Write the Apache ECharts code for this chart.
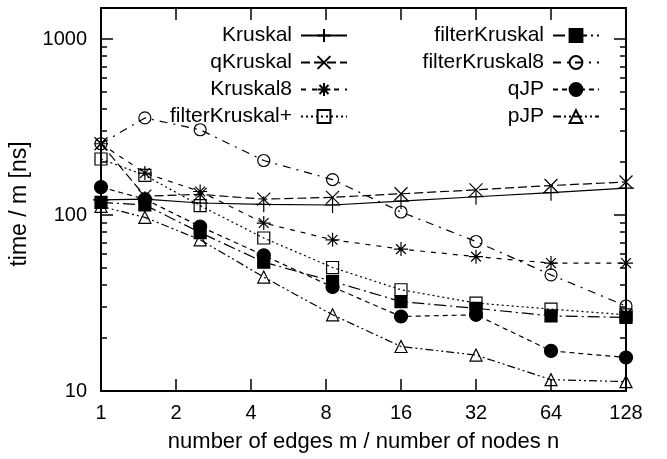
<!DOCTYPE html>
<html>
<head>
<meta charset="utf-8">
<script src="https://cdn.jsdelivr.net/npm/echarts@6/dist/echarts.min.js"></script>
<style>
html,body{margin:0;padding:0;background:#fff;}
#chart{width:667px;height:459px;}
</style>
</head>
<body>
<div id="chart"></div>
<script>
// ---- data ----
var xValues = [1, 1.5, 2.5, 4.5, 8.5, 16, 32, 64, 128];
var seriesNames = ['Kruskal', 'qKruskal', 'Kruskal8', 'filterKruskal+', 'filterKruskal', 'filterKruskal8', 'qJP', 'pJP'];
var kruskal        = [122, 123, 117, 115, 114, 120, 127, 134, 142];
var qKruskal       = [254, 128, 131, 123, 126, 132, 139, 147, 154];
var kruskal8       = [254, 173, 136, 90, 72.3, 64, 58, 53.3, 53.3];
var filterKruskalP = [208, 168, 113, 74, 50.3, 37.6, 31.6, 29.2, 27.1];
var filterKruskal  = [118, 114, 79.5, 54, 42, 32.2, 29.5, 26.7, 26.2];
var filterKruskal8 = [254, 356, 305, 204, 159, 104, 70.7, 45.7, 30.4];
var qJP            = [144, 123, 86, 59, 39, 26.5, 27.1, 16.9, 15.5];
var pJP            = [112, 97, 72.3, 44.4, 27.1, 17.9, 16.0, 11.6, 11.3];
var xTicks = [1, 2, 4, 8, 16, 32, 64, 128];
var yMajorTicks = [10, 100, 1000];
var yMinorTicks = [20, 30, 40, 50, 60, 70, 80, 90, 200, 300, 400, 500, 600, 700, 800, 900];

// ---- styles ----
var FONT = 'Liberation Sans';
var INK = '#000';
var PLUS = 'path://M0,5L10,5M5,0L5,10';
var CROSS = 'path://M0,0L10,10M10,0L0,10';
var STAR = 'path://M5,0L5,10M0,5L10,5M1.5,1.5L8.5,8.5M8.5,1.5L1.5,8.5';

var styles = [
  {sym: PLUS, size: 16, fill: 'transparent', dash: 'solid'},
  {sym: CROSS, size: 13, fill: 'transparent', dash: [9, 4]},
  {sym: STAR, size: 14, fill: 'transparent', dash: [5, 6]},
  {sym: 'rect', size: 12, fill: 'transparent', dash: [2, 3]},
  {sym: 'rect', size: 12, fill: INK, dash: [12, 4, 2, 4]},
  {sym: 'circle', size: 12, fill: 'transparent', dash: [8, 6, 2, 6]},
  {sym: 'circle', size: 13, fill: INK, dash: [5, 4]},
  {sym: 'triangle', size: 12, fill: 'transparent', dash: [8, 3, 2, 3, 2, 3]}
];
var values = [kruskal, qKruskal, kruskal8, filterKruskalP, filterKruskal, filterKruskal8, qJP, pJP];

var series = seriesNames.map(function (name, i) {
  var st = styles[i];
  return {
    name: name,
    type: 'line',
    xAxisIndex: 0,
    yAxisIndex: 0,
    data: xValues.map(function (x, j) { return [x, values[i][j]]; }),
    symbol: st.sym,
    symbolSize: st.size,
    showAllSymbol: true,
    animation: false,
    lineStyle: {color: INK, width: 1.2, type: st.dash},
    itemStyle: {color: st.fill, borderColor: INK, borderWidth: 1.2}
  };
});

function yAxisDef(pos, ticks, len, showLabel, showLine) {
  return {
    type: 'log', logBase: 10, min: 10, max: 1500, position: pos,
    gridIndex: 0,
    name: (pos === 'left' && showLabel) ? 'time / m [ns]' : '',
    nameLocation: 'middle', nameGap: 63,
    nameTextStyle: {fontFamily: FONT, fontSize: 23, color: INK, padding: [0, 9, 0, 0]},
    axisLine: {show: showLine, lineStyle: {color: INK, width: 2}},
    axisTick: {show: true, inside: true, length: len, customValues: ticks, lineStyle: {color: INK, width: 1.5}},
    axisLabel: {show: showLabel, customValues: ticks, margin: 14, fontFamily: FONT, fontSize: 20, color: INK,
      formatter: function (v) { return String(Math.round(v)); }},
    splitLine: {show: false}, minorTick: {show: false}, minorSplitLine: {show: false}
  };
}

function xAxisDef(pos, showLabel) {
  return {
    type: 'log', logBase: 2, min: 1, max: 128, position: pos,
    gridIndex: 0,
    name: showLabel ? 'number of edges m / number of nodes n' : '',
    nameLocation: 'middle', nameGap: 40,
    nameTextStyle: {fontFamily: FONT, fontSize: 22, color: INK},
    axisLine: {show: true, lineStyle: {color: INK, width: 2}},
    axisTick: {show: true, inside: true, length: 12, customValues: xTicks, lineStyle: {color: INK, width: 1.5}},
    axisLabel: {show: showLabel, customValues: xTicks, margin: 12, fontFamily: FONT, fontSize: 20, color: INK,
      formatter: function (v) { return String(Math.round(v)); }},
    splitLine: {show: false}
  };
}

function legendDef(names, right) {
  return {
    data: names,
    orient: 'vertical',
    align: 'right',
    right: right,
    top: 25,
    padding: 0,
    itemWidth: 46,
    itemHeight: 16,
    itemGap: 6,
    selectedMode: false,
    textStyle: {fontFamily: FONT, fontSize: 21, color: INK, lineHeight: 16, padding: [0, 4, 0, 0]}
  };
}

var option = {
  backgroundColor: '#fff',
  animation: false,
  textStyle: {fontFamily: FONT},
  grid: {left: 101, right: 41, top: 8, bottom: 68, containLabel: false},
  xAxis: [xAxisDef('bottom', true), xAxisDef('top', false)],
  yAxis: [
    yAxisDef('left', yMajorTicks, 12, true, true),
    yAxisDef('left', yMinorTicks, 6, false, false),
    yAxisDef('right', yMajorTicks, 12, false, true),
    yAxisDef('right', yMinorTicks, 6, false, false)
  ],
  legend: [
    legendDef(seriesNames.slice(0, 4), 319),
    legendDef(seriesNames.slice(4), 67)
  ],
  series: series
};

var chart = echarts.init(document.getElementById('chart'), null, {renderer: 'canvas'});
chart.setOption(option);
</script>
</body>
</html>
